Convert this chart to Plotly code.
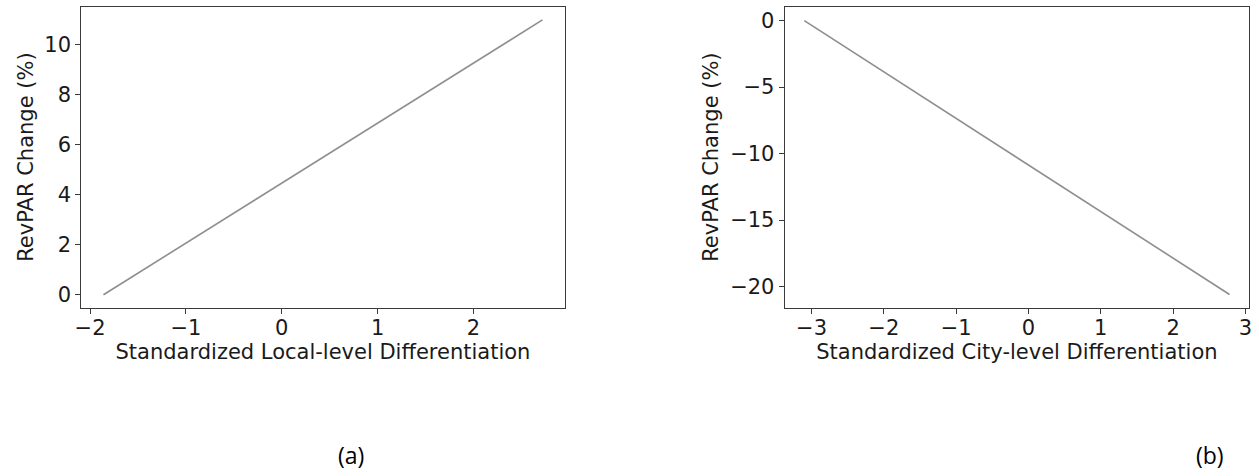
import plotly.graph_objects as go

# Data
local_x = [-1.86, 2.72]
local_y = [0.0, 11.0]
city_x = [-3.1, 2.78]
city_y = [0.0, -20.6]

x_title_a = "Standardized Local-level Differentiation"
x_title_b = "Standardized City-level Differentiation"
y_title = "RevPAR Change (%)"
captions = ["(a)", "(b)"]

W, H = 1259, 476
LINE_COLOR = "#8e8e8e"
AXIS_COLOR = "#3a3a3a"
TXT = "#1a1a1a"
FONT = "DejaVu Sans"

fig = go.Figure()
fig.add_trace(go.Scatter(x=local_x, y=local_y, mode="lines",
                         line=dict(color=LINE_COLOR, width=1.6),
                         xaxis="x", yaxis="y", showlegend=False))
fig.add_trace(go.Scatter(x=city_x, y=city_y, mode="lines",
                         line=dict(color=LINE_COLOR, width=1.6),
                         xaxis="x2", yaxis="y2", showlegend=False))

def ax(**kw):
    base = dict(showgrid=False, zeroline=False, showline=True, mirror=True,
                linecolor=AXIS_COLOR, linewidth=1.2, ticks="outside",
                ticklen=5, tickwidth=1, tickcolor=AXIS_COLOR,
                tickfont=dict(family=FONT, size=21, color=TXT),
                title_font=dict(family=FONT, size=21, color=TXT))
    base.update(kw)
    return base

yd = [1 - 307.5 / H, 1 - 6.7 / H]
fig.update_layout(
    width=W, height=H,
    margin=dict(l=0, r=0, t=0, b=0),
    paper_bgcolor="white", plot_bgcolor="white",
    xaxis=ax(domain=[75 / W, 562 / W], range=[-2.09, 2.95], dtick=1,
             anchor="y", ticklabelstandoff=-4,
             title=dict(text=x_title_a, standoff=0)),
    yaxis=ax(domain=yd, range=[-0.51, 11.53], dtick=2, anchor="x",
             title=dict(text=y_title, standoff=5)),
    xaxis2=ax(domain=[784 / W, 1252 / W], range=[-3.37, 3.05], dtick=1,
              anchor="y2", ticklabelstandoff=-4,
              title=dict(text=x_title_b, standoff=0)),
    yaxis2=ax(domain=yd, range=[-21.58, 1.05], dtick=5, anchor="x2",
              title=dict(text=y_title, standoff=5)),
)

for cap, cx in zip(captions, [347, 1213]):
    fig.add_annotation(text=cap, x=cx / W, y=1 - 455 / H, xref="paper",
                       yref="paper", showarrow=False, xanchor="center",
                       yanchor="middle",
                       font=dict(family="Open Sans", size=23, color="black"))

fig.write_html("out.html")
